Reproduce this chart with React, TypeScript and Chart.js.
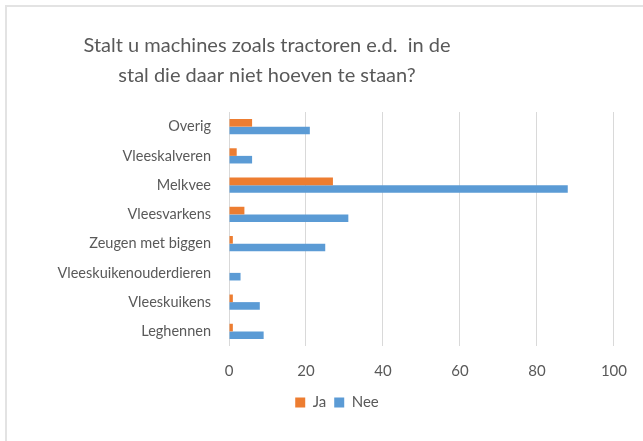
import React, { useEffect, useRef } from "react";
import { Chart, registerables } from "chart.js";

Chart.register(...registerables);

const categories = [
  "Overig",
  "Vleeskalveren",
  "Melkvee",
  "Vleesvarkens",
  "Zeugen met biggen",
  "Vleeskuikenouderdieren",
  "Vleeskuikens",
  "Leghennen",
];
const jaValues = [6, 2, 27, 4, 1, 0, 1, 1];
const neeValues = [21, 6, 88, 31, 25, 3, 8, 9];
const seriesNames = ["Ja", "Nee"];
const xMin = 0;
const xMax = 100;
const xStep = 20;
const titleLines = ["Stalt u machines zoals tractoren e.d.  in de", "stal die daar niet hoeven te staan?"];

const FONT = "Lato, 'Open Sans', sans-serif";
const TEXT = "#595959";
const PAD_LEFT = 56;

const titlePlugin = {
  id: "excelTitle",
  afterDraw(chart: any) {
    const ctx = chart.ctx;
    ctx.save();
    ctx.font = `20px ${FONT}`;
    ctx.fillStyle = TEXT;
    ctx.textAlign = "center";
    ctx.textBaseline = "middle";
    titleLines.forEach((line, i) => ctx.fillText(line, 267, 46 + i * 30));
    ctx.restore();
  },
};

export default function App() {
  const ref = useRef<HTMLCanvasElement | null>(null);
  useEffect(() => {
    document.body.style.margin = "0";
    if (!ref.current) return;
    const chart = new Chart(ref.current, {
      type: "bar",
      data: {
        labels: categories,
        datasets: [
          { label: seriesNames[0], data: jaValues, backgroundColor: "#ED7D31", borderWidth: 0 },
          { label: seriesNames[1], data: neeValues, backgroundColor: "#5B9BD5", borderWidth: 0 },
        ],
      },
      options: {
        indexAxis: "y",
        animation: false,
        responsive: false,
        maintainAspectRatio: false,
        datasets: { bar: { categoryPercentage: 0.52, barPercentage: 1 } },
        layout: { padding: { left: PAD_LEFT, right: 25, top: 112, bottom: 21 } },
        plugins: {
          title: { display: false },
          tooltip: { enabled: false },
          legend: {
            position: "bottom",
            labels: {
              boxWidth: 10,
              boxHeight: 10,
              color: TEXT,
              font: { family: FONT, size: 15 },
              padding: 8,
            },
          },
        },
        scales: {
          x: {
            min: xMin,
            max: xMax,
            ticks: { stepSize: xStep, color: TEXT, font: { family: FONT, size: 15 }, padding: 16 },
            grid: { color: "#d9d9d9", lineWidth: 1, drawTicks: false },
            border: { display: false },
            afterFit(scale: any) {
              scale.height = scale.height - 9;
            },
          },
          y: {
            ticks: { color: TEXT, font: { family: FONT, size: 14.5 }, padding: 18 },
            grid: { display: false, drawTicks: false },
            border: { display: false },
            afterFit(scale: any) {
              scale.width = 229 - PAD_LEFT;
            },
          },
        },
      },
      plugins: [titlePlugin],
    });
    return () => chart.destroy();
  }, []);
  return (
    <div style={{ position: "relative", width: 643, height: 441, background: "#fff" }}>
      <div
        style={{
          position: "absolute",
          left: 5,
          top: 5,
          right: 0,
          bottom: 0,
          borderLeft: "2px solid #e3e3e3",
          borderTop: "2px solid #e3e3e3",
        }}
      />
      <canvas ref={ref} width={643} height={441} style={{ position: "absolute", left: 0, top: 0 }} />
    </div>
  );
}
